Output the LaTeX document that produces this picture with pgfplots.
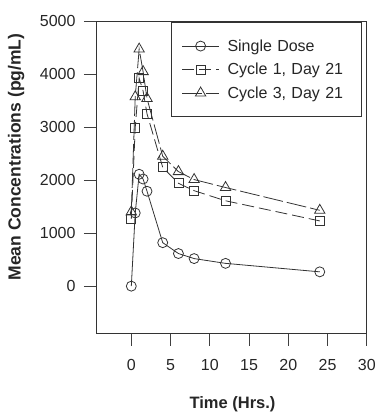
\documentclass[border=0pt]{standalone}
\usepackage{pgfplots}
\pgfplotsset{compat=1.18}
\usepackage{fontspec}
\setmainfont{Liberation Sans}
\begin{document}
\begin{tikzpicture}
\begin{axis}[
  scale only axis, width=271pt, height=313pt,
  xmin=-4.5, xmax=30, ymin=-900, ymax=5000,
  xtick={0,5,...,30}, ytick={0,1000,...,5000},
  tick align=outside, xtick pos=bottom, ytick pos=left,
  major tick length=12pt,
  tick style={color=black!75, line width=0.8pt},
  axis line style={black!80, line width=0.8pt},
  /pgf/number format/assume math mode=true,
  /pgf/number format/1000 sep={},
  tick label style={font=\fontsize{16}{18}\selectfont, text=black!85},
  yticklabel style={xshift=-5pt},
  xticklabel style={yshift=-10pt},
  xlabel={\bfseries Time (Hrs.)},
  ylabel={\bfseries Mean Concentrations (pg/mL)},
  xlabel style={at={(axis description cs:0.504,-0.224)}, anchor=center, font=\fontsize{16.5}{18}\selectfont, text=black!85},
  ylabel style={at={(axis description cs:-0.295,0.565)}, anchor=center, font=\fontsize{17.5}{20}\selectfont, text=black!85},
  legend style={at={(0.9815,0.997)}, anchor=north east, draw=black!80, line width=0.8pt,
    font=\fontsize{16}{19}\selectfont, text=black!85, inner xsep=10pt, inner ysep=12pt,
    nodes={inner ysep=5.2pt, inner xsep=8pt, text width=116pt, align=left}},
  legend cell align=left,
  legend image code/.code={\draw[mark repeat=2,mark phase=2] plot coordinates {(0pt,0pt) (18.5pt,0pt) (37pt,0pt)};},
  every axis plot/.append style={line width=0.8pt, black!80},
]
\addplot[mark=o, mark size=5pt, mark options={solid, fill=white}] coordinates {
 (0,0) (0.5,1380) (1,2110) (1.5,2020) (2,1790) (4,820) (6,615) (8,520) (12,430) (24,270)};
\addlegendentry{Single Dose}
\addplot[mark=square, mark size=4.5pt, mark options={solid, fill=white}, dash pattern=on 12pt off 5pt] coordinates {
 (0,1270) (0.5,2990) (1,3920) (1.5,3680) (2,3250) (4,2240) (6,1940) (8,1800) (12,1610) (24,1230)};
\addlegendentry{Cycle 1, Day 21}
\addplot[mark=triangle, mark size=6pt, mark options={solid, fill=white}, dash pattern=on 20pt off 4pt] coordinates {
 (0,1400) (0.5,3570) (1,4470) (1.5,4045) (2,3540) (4,2450) (6,2160) (8,2010) (12,1860) (24,1430)};
\addlegendentry{Cycle 3, Day 21}
\end{axis}
\path (-96pt,-81pt) rectangle ++(389pt,415pt);
\end{tikzpicture}
\end{document}
